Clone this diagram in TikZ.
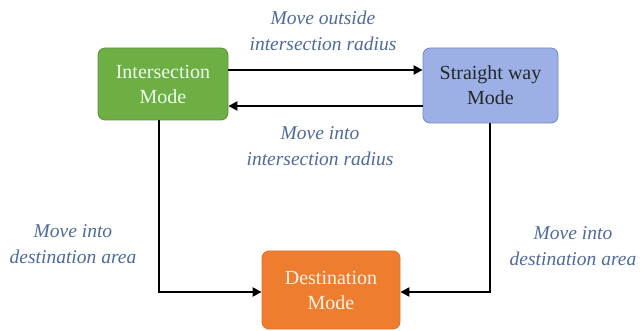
\documentclass[tikz,border=0pt]{standalone}
\usepackage{fontspec}
\setmainfont{Liberation Serif}
\usetikzlibrary{arrows.meta}
\definecolor{gfill}{HTML}{6DAE45}
\definecolor{gdraw}{HTML}{5A9438}
\definecolor{bfill}{HTML}{9CB0E6}
\definecolor{bdraw}{HTML}{6F86C4}
\definecolor{ofill}{HTML}{EE7D30}
\definecolor{odraw}{HTML}{E07020}
\definecolor{lbl}{HTML}{4E6A9C}
\tikzset{
  modebox/.style={rounded corners=7pt, minimum height=#1, align=center, font=\fontsize{20}{25}\selectfont, line width=0.8pt, inner sep=2pt},
  conn/.style={line width=2.4pt, -{Triangle[length=9pt,width=9pt]}},
  lab/.style={text=lbl, align=center, font=\fontsize{19.5}{26}\itshape\selectfont}
}
\begin{document}
\begin{tikzpicture}[x=1pt,y=-1pt]
\useasboundingbox (0,0) rectangle (643,331);
\node[modebox=72pt, minimum width=130pt, fill=gfill, draw=gdraw, text=white!92!green] (inter) at (163,84) {Intersection\\Mode};
\node[modebox=75pt, minimum width=135pt, fill=bfill, draw=bdraw, text=black!85] (straight) at (490.5,85.5) {Straight way\\Mode};
\node[modebox=78pt, minimum width=138pt, fill=ofill, draw=odraw, text=white!90!orange] (dest) at (331,290) {Destination\\Mode};
\coordinate (lc) at (159,292);
\coordinate (rc) at (490,292);
\draw[conn] (inter.east |- 0,70) -- (straight.west |- 0,70);
\draw[conn] (straight.west |- 0,106) -- (inter.east |- 0,106);
\draw[conn] (inter.south -| lc) -- (lc) -- (dest.west |- lc);
\draw[conn] (straight.south -| rc) -- (rc) -- (dest.east |- rc);
\node[lab] (l1) at (323,31) {Move outside\\intersection radius};
\node[lab] (l2) at (320,146) {Move into\\intersection radius};
\node[lab] (l3) at (73,244) {Move into\\destination area};
\node[lab] (l4) at (573,246) {Move into\\destination area};
\end{tikzpicture}
\end{document}
